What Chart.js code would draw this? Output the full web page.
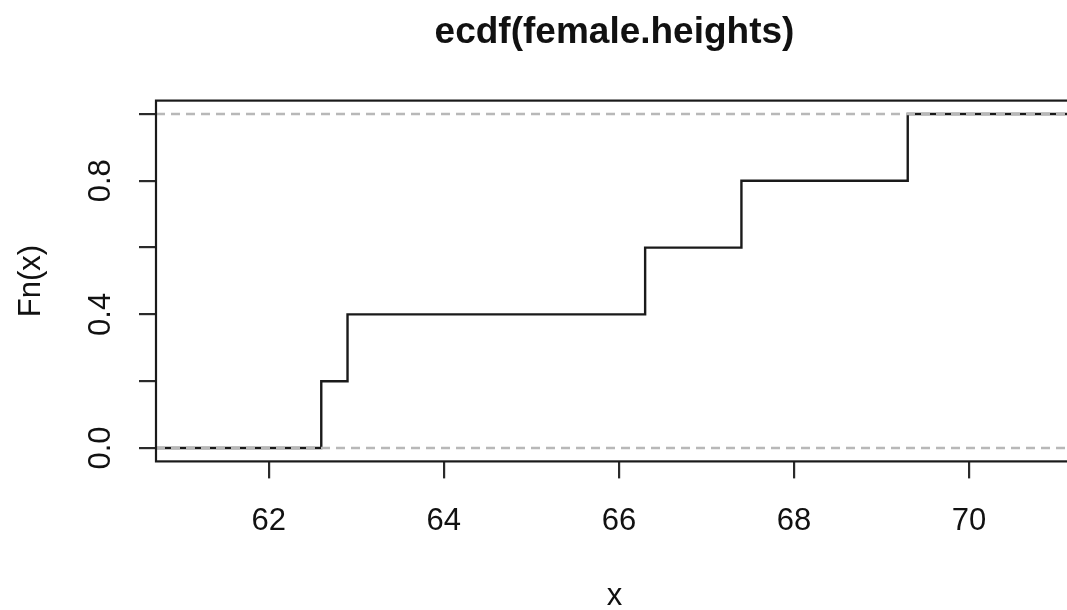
<!DOCTYPE html>
<html>
<head>
<meta charset="utf-8">
<title>ecdf(female.heights)</title>
<script src="https://cdn.jsdelivr.net/npm/chart.js@4/dist/chart.umd.min.js"></script>
<style>
    html, body { margin: 0; padding: 0; background: #fff; overflow: hidden; }
    #wrap { position: absolute; left: 0; top: 0; width: 1120px; height: 610px; }
</style>
</head>
<body>
<div id="wrap"><canvas id="ecdf-chart" width="1120" height="610"></canvas></div>
<script>
// Data
const knots = [62.6, 62.9, 66.3, 67.4, 69.3];
const fnValues = [0.2, 0.4, 0.6, 0.8, 1.0];
const xLimits = [60.712, 71.188];
const yLimits = [-0.04, 1.04];
const xTicks = [62, 64, 66, 68, 70];
const xTickLabels = ['62', '64', '66', '68', '70'];
const yTicks = [0, 0.2, 0.4, 0.6, 0.8, 1.0];
const yTickLabels = ['0.0', '', '0.4', '', '0.8', ''];
const refLines = [0, 1];

const FONT = '"Liberation Sans", Arial, sans-serif';

// step line from the left edge of the plot to the right edge
const stepPoints = [{ x: xLimits[0], y: 0 }];
knots.forEach((k, i) => stepPoints.push({ x: k, y: fnValues[i] }));
stepPoints.push({ x: xLimits[1], y: fnValues[fnValues.length - 1] });

const refDatasets = refLines.map(h => ({
    data: [{ x: xLimits[0], y: h }, { x: xLimits[1], y: h }],
    borderColor: '#b8b8b8',
    borderWidth: 2.5,
    borderDash: [9, 6],
    pointRadius: 0,
    order: 0
}));

// box, title and all text in R style
const rDecor = {
    id: 'rDecor',
    afterDraw(chart) {
        const ctx = chart.ctx;
        const area = chart.chartArea;
        const xs = chart.scales.x;
        const ys = chart.scales.y;
        const midX = (area.left + area.right) / 2;

        ctx.save();
        ctx.strokeStyle = '#1a1a1a';
        ctx.lineWidth = 2.2;
        ctx.strokeRect(area.left, area.top, area.right - area.left, area.bottom - area.top);

        ctx.fillStyle = '#111';
        ctx.textBaseline = 'alphabetic';
        ctx.textAlign = 'center';

        ctx.font = 'bold 37px ' + FONT;
        ctx.fillText('ecdf(female.heights)', midX, 43);

        ctx.font = '31px ' + FONT;
        xTicks.forEach((v, i) => {
            ctx.fillText(xTickLabels[i], xs.getPixelForValue(v), 530);
        });
        ctx.fillText('x', midX, 605);

        yTicks.forEach((v, i) => {
            if (!yTickLabels[i]) return;
            ctx.save();
            ctx.translate(110, ys.getPixelForValue(v));
            ctx.rotate(-Math.PI / 2);
            ctx.fillText(yTickLabels[i], 0, 0);
            ctx.restore();
        });

        ctx.save();
        ctx.translate(40, (area.top + area.bottom) / 2);
        ctx.rotate(-Math.PI / 2);
        ctx.fillText('Fn(x)', 0, 0);
        ctx.restore();

        ctx.restore();
    }
};

const axisGrid = {
    display: true,
    drawOnChartArea: false,
    drawTicks: true,
    tickLength: 17,
    color: '#2a2a2a',
    lineWidth: 2.2
};

new Chart(document.getElementById('ecdf-chart'), {
    type: 'line',
    data: {
        datasets: [
            ...refDatasets,
            {
                data: stepPoints,
                stepped: 'before',
                borderColor: '#1a1a1a',
                borderWidth: 2.4,
                pointRadius: 0,
                fill: false,
                order: 1
            }
        ]
    },
    options: {
        responsive: false,
        animation: false,
        devicePixelRatio: 1,
        layout: {
            padding: { left: 0, top: 100.6, right: 47, bottom: 0 }
        },
        plugins: {
            legend: { display: false },
            title: { display: false },
            tooltip: { enabled: false }
        },
        scales: {
            x: {
                type: 'linear',
                min: xLimits[0],
                max: xLimits[1],
                grid: axisGrid,
                border: { display: false },
                ticks: { display: false },
                afterBuildTicks: scale => {
                    scale.ticks = xTicks.map(v => ({ value: v }));
                },
                afterFit: scale => {
                    scale.height = 610 - 461.4;
                }
            },
            y: {
                type: 'linear',
                min: yLimits[0],
                max: yLimits[1],
                grid: axisGrid,
                border: { display: false },
                ticks: { display: false },
                afterBuildTicks: scale => {
                    scale.ticks = yTicks.map(v => ({ value: v }));
                },
                afterFit: scale => {
                    scale.width = 156;
                }
            }
        }
    },
    plugins: [rDecor]
});
</script>
</body>
</html>
